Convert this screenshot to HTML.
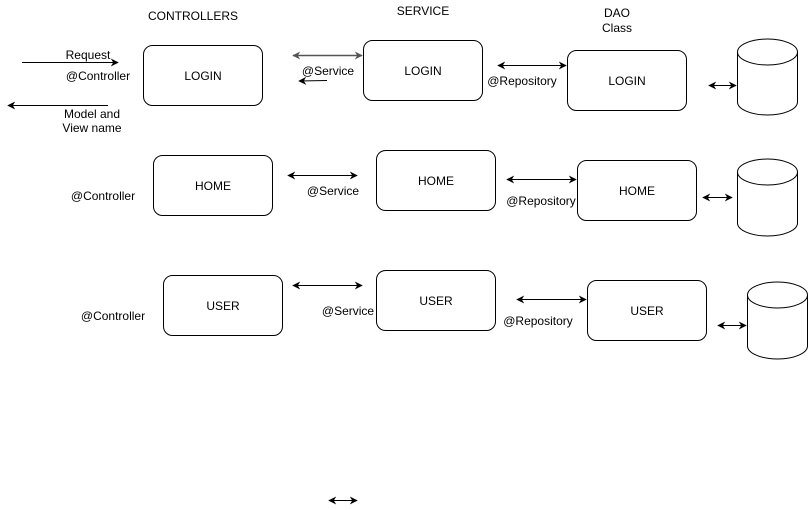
<!DOCTYPE html>
<html><head><meta charset="utf-8"><style>
html,body{margin:0;padding:0;background:#fff;}
svg{display:block;}
text{font-family:"Liberation Sans",sans-serif;font-size:12px;fill:#000;}
</style></head><body>
<svg width="808" height="510" viewBox="0 0 808 510" xmlns="http://www.w3.org/2000/svg">
<defs>
<marker id="a" viewBox="0 0 10 10" refX="9" refY="5" markerWidth="8" markerHeight="8" orient="auto-start-reverse" markerUnits="userSpaceOnUse"><path d="M0,0 L10,5 L0,10 L3,5 Z" fill="#000"/></marker>
<marker id="g" viewBox="0 0 10 10" refX="9" refY="5" markerWidth="8" markerHeight="8" orient="auto-start-reverse" markerUnits="userSpaceOnUse"><path d="M0,0 L10,5 L0,10 L3,5 Z" fill="#555"/></marker>
</defs>
<g fill="#fff" stroke="#000" stroke-width="1">
<rect x="143.5" y="45.5" width="119" height="60" rx="9"/>
<rect x="363.5" y="40.5" width="119" height="60" rx="9"/>
<rect x="567.5" y="50.5" width="119" height="60" rx="9"/>
<rect x="153.5" y="155.5" width="119" height="60" rx="9"/>
<rect x="376.5" y="150.5" width="119" height="60" rx="9"/>
<rect x="577.5" y="160.5" width="119" height="60" rx="9"/>
<rect x="163.5" y="275.5" width="119" height="60" rx="9"/>
<rect x="376.5" y="270.5" width="119" height="60" rx="9"/>
<rect x="587.5" y="280.5" width="119" height="60" rx="9"/>
</g>
<g fill="#fff" stroke="#000">
<path d="M737.5,52 v50 a30,13 0 0 0 60,0 v-50 a30,13 0 0 0 -60,0 a30,13 0 0 0 60,0"/>
<path d="M737.5,172 v51 a30,13 0 0 0 60,0 v-51 a30,13 0 0 0 -60,0 a30,13 0 0 0 60,0"/>
<path d="M747.5,295 v51 a30,13 0 0 0 60,0 v-51 a30,13 0 0 0 -60,0 a30,13 0 0 0 60,0"/>
</g>
<g stroke="#000" stroke-width="1" fill="none">
<line x1="22" y1="62.5" x2="118" y2="62.5" marker-end="url(#a)"/>
<line x1="108" y1="105.5" x2="8" y2="105.5" marker-end="url(#a)"/>
<line x1="327" y1="80.5" x2="299" y2="81" marker-end="url(#a)"/>
<line x1="293" y1="55.5" x2="362" y2="55.5" stroke="#555" stroke-width="1.5" marker-start="url(#g)" marker-end="url(#g)"/>
<line x1="498" y1="65.5" x2="566" y2="65.5" marker-start="url(#a)" marker-end="url(#a)"/>
<line x1="709" y1="85.5" x2="736" y2="85.5" marker-start="url(#a)" marker-end="url(#a)"/>
<line x1="288" y1="175.5" x2="357" y2="175.5" marker-start="url(#a)" marker-end="url(#a)"/>
<line x1="507" y1="179.5" x2="576" y2="179.5" marker-start="url(#a)" marker-end="url(#a)"/>
<line x1="703" y1="197.5" x2="732" y2="197.5" marker-start="url(#a)" marker-end="url(#a)"/>
<line x1="293" y1="285.5" x2="362" y2="285.5" marker-start="url(#a)" marker-end="url(#a)"/>
<line x1="517" y1="299.5" x2="586" y2="299.5" marker-start="url(#a)" marker-end="url(#a)"/>
<line x1="718" y1="325.5" x2="746" y2="325.5" marker-start="url(#a)" marker-end="url(#a)"/>
<line x1="329" y1="500.5" x2="357" y2="500.5" marker-start="url(#a)" marker-end="url(#a)"/>
</g>
<text x="193" y="20" text-anchor="middle">CONTROLLERS</text>
<text x="423" y="15" text-anchor="middle">SERVICE</text>
<text x="617" y="17" text-anchor="middle">DAO</text>
<text x="617" y="32" text-anchor="middle">Class</text>
<text x="88" y="59" text-anchor="middle">Request</text>
<text x="98" y="80" text-anchor="middle">@Controller</text>
<text x="92" y="118" text-anchor="middle">Model and</text>
<text x="92" y="132" text-anchor="middle">View name</text>
<text x="328" y="75" text-anchor="middle">@Service</text>
<text x="522" y="85" text-anchor="middle">@Repository</text>
<text x="203" y="80" text-anchor="middle">LOGIN</text>
<text x="423" y="75" text-anchor="middle">LOGIN</text>
<text x="627" y="85" text-anchor="middle">LOGIN</text>
<text x="103" y="200" text-anchor="middle">@Controller</text>
<text x="333" y="195" text-anchor="middle">@Service</text>
<text x="541" y="205" text-anchor="middle">@Repository</text>
<text x="213" y="190" text-anchor="middle">HOME</text>
<text x="436" y="185" text-anchor="middle">HOME</text>
<text x="637" y="195" text-anchor="middle">HOME</text>
<text x="113" y="320" text-anchor="middle">@Controller</text>
<text x="348" y="315" text-anchor="middle">@Service</text>
<text x="538" y="325" text-anchor="middle">@Repository</text>
<text x="223" y="310" text-anchor="middle">USER</text>
<text x="436" y="305" text-anchor="middle">USER</text>
<text x="647" y="315" text-anchor="middle">USER</text>
</svg>
</body></html>
